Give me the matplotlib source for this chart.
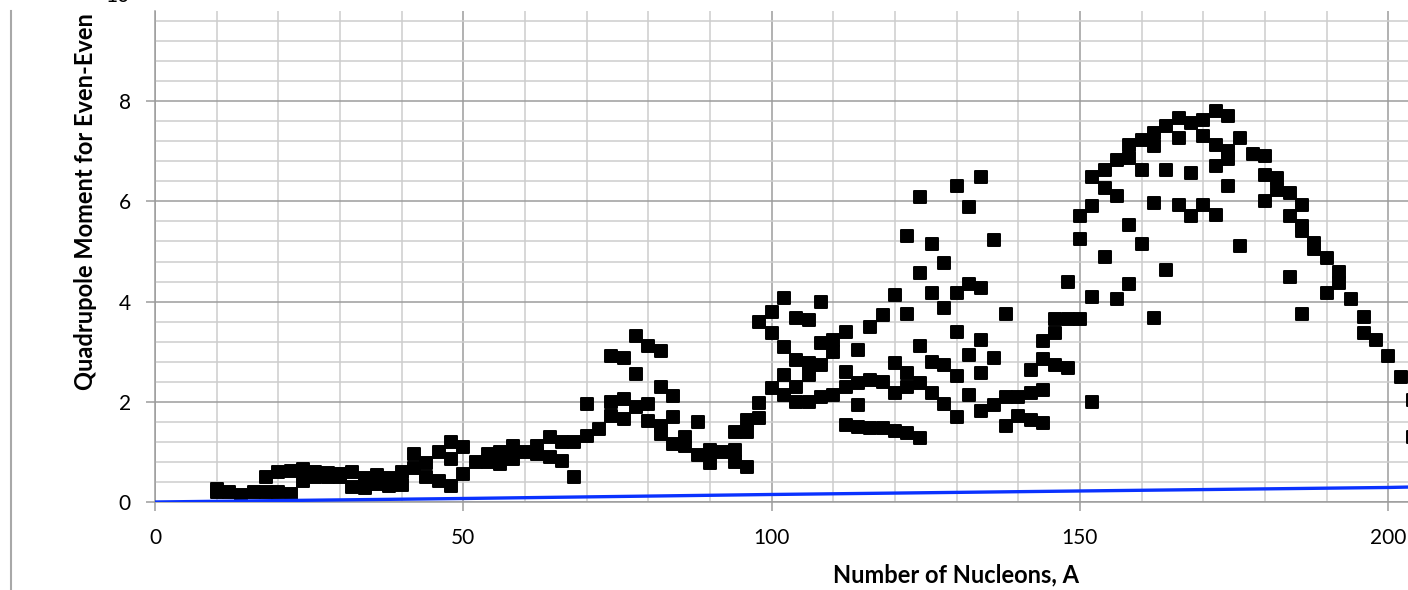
import matplotlib
matplotlib.use("Agg")
import matplotlib.pyplot as plt
from matplotlib.lines import Line2D
from matplotlib.markers import MarkerStyle
from matplotlib.ticker import MultipleLocator

plt.rcParams['font.family'] = ['Lato', 'DejaVu Sans']

# even-even nuclei: mass number A and quadrupole moment
A_values = [10, 10, 12, 14, 16, 18, 18, 20, 20, 22, 22, 24, 24, 26, 26, 28, 28, 30, 30,
            32, 32, 34, 34, 36, 36, 38, 38, 40, 40, 42, 42, 44, 44, 46, 46, 48, 48, 48,
            50, 50, 52, 54, 54, 56, 56, 58, 58, 60, 62, 62, 64, 64, 66, 66, 68, 68,
            70, 70, 72, 74, 74, 74, 76, 76, 76, 78, 78, 78, 80, 80, 80, 82, 82, 82, 82,
            84, 84, 84, 86, 86, 88, 88, 90, 90, 92, 94, 94, 94, 96, 96, 96, 98, 98, 98,
            100, 100, 100, 102, 102, 102, 102, 104, 104, 104, 104, 106, 106, 106, 106,
            108, 108, 108, 108, 110, 110, 110, 112, 112, 112, 112, 114, 114, 114, 114,
            116, 116, 116, 118, 118, 118, 120, 120, 120, 120, 122, 122, 122, 122, 122,
            124, 124, 124, 124, 124, 126, 126, 126, 126, 128, 128, 128, 128,
            130, 130, 130, 130, 130, 132, 132, 132, 132, 134, 134, 134, 134, 134,
            136, 136, 136, 138, 138, 138, 140, 140, 142, 142, 142, 144, 144, 144, 144,
            146, 146, 146, 148, 148, 148, 150, 150, 150, 152, 152, 152, 152,
            154, 154, 154, 156, 156, 156, 158, 158, 158, 158, 160, 160, 160,
            162, 162, 162, 162, 164, 164, 164, 166, 166, 166, 168, 168, 168,
            170, 170, 170, 172, 172, 172, 172, 174, 174, 174, 174, 176, 176, 178,
            180, 180, 180, 182, 182, 184, 184, 184, 186, 186, 186, 186, 188, 188,
            190, 190, 192, 192, 194, 196, 196, 198, 200, 202, 204, 204]
Q_values = [0.26, 0.20, 0.20, 0.14, 0.20, 0.50, 0.20, 0.60, 0.20, 0.62, 0.15, 0.66, 0.42,
            0.60, 0.50, 0.58, 0.50, 0.56, 0.50, 0.60, 0.30, 0.47, 0.27, 0.54, 0.35,
            0.47, 0.32, 0.60, 0.33, 0.95, 0.68, 0.78, 0.50, 0.99, 0.42, 1.19, 0.85, 0.32,
            1.09, 0.55, 0.80, 0.95, 0.80, 0.99, 0.75, 1.12, 0.85, 0.99, 1.12, 0.95,
            1.29, 0.89, 1.19, 0.82, 1.19, 0.49,
            1.95, 1.32, 1.45, 2.92, 1.99, 1.72, 2.87, 2.05, 1.65, 3.32, 2.55, 1.89,
            3.12, 1.95, 1.62, 3.02, 2.29, 1.52, 1.35,
            2.11, 1.69, 1.15, 1.29, 1.12, 1.60, 0.93, 1.03, 0.77, 1.00, 1.40, 1.03, 0.80,
            1.63, 1.40, 0.70, 3.60, 1.97, 1.67,
            3.80, 3.37, 2.27, 4.07, 3.10, 2.53, 2.13, 3.67, 2.83, 2.30, 2.00,
            3.63, 2.77, 2.53, 2.00, 4.00, 3.17, 2.73, 2.10, 3.23, 3.00, 2.13,
            3.40, 2.60, 2.30, 1.53, 3.03, 2.37, 1.93, 1.50, 3.50, 2.43, 1.47,
            3.73, 2.40, 1.47, 4.13, 2.77, 2.17, 1.42, 5.30, 3.75, 2.58, 2.29, 1.38,
            6.09, 4.57, 3.11, 2.38, 1.27, 5.15, 4.18, 2.80, 2.18, 4.78, 3.87, 2.73, 1.95,
            6.31, 4.18, 3.40, 2.51, 1.70, 5.89, 4.35, 2.93, 2.13, 6.49, 4.27, 3.23, 2.58, 1.82,
            5.23, 2.87, 1.93, 3.75, 2.10, 1.51, 2.09, 1.71, 2.63, 2.18, 1.63,
            3.22, 2.85, 2.23, 1.58, 3.65, 3.38, 2.73, 4.40, 3.65, 2.67,
            5.70, 5.25, 3.65, 6.49, 5.90, 4.09, 2.00,
            6.63, 6.27, 4.90, 6.83, 6.11, 4.05, 7.13, 6.87, 5.53, 4.35, 7.23, 6.63, 5.15,
            7.37, 7.10, 5.97, 3.67, 7.50, 6.63, 4.63, 7.67, 7.27, 5.93, 7.57, 6.57, 5.70,
            7.63, 7.30, 5.93, 7.80, 7.13, 6.70, 5.73, 7.70, 7.00, 6.85, 6.30, 7.27, 5.10, 6.95,
            6.90, 6.53, 6.00, 6.47, 6.23, 6.17, 5.70, 4.49, 5.93, 5.50, 5.40, 3.75, 5.17, 5.05,
            4.87, 4.18, 4.60, 4.37, 4.05, 3.70, 3.37, 3.23, 2.92, 2.49, 2.04, 1.30]

# blue reference line
line_A = [0, 50, 100, 150, 200, 204]
line_Q = [0.0, 0.07, 0.15, 0.22, 0.29, 0.30]

W, H = 1408, 590
fig = plt.figure(figsize=(W / 100, H / 100), dpi=100)
ax = fig.add_axes([155 / W, (H - 502) / H, (W - 155) / W, (502 - 11) / H])

ax.set_xlim(0, 203.2)
ax.set_ylim(0, 9.8)
ax.xaxis.set_major_locator(MultipleLocator(50))
ax.xaxis.set_minor_locator(MultipleLocator(10))
ax.yaxis.set_major_locator(MultipleLocator(2))
ax.yaxis.set_minor_locator(MultipleLocator(0.4))
ax.grid(which='major', color='#9c9c9c', lw=1.1)
ax.grid(which='minor', color='#cdcdcd', lw=1.1)
ax.set_axisbelow(True)

for s in ['top', 'right']:
    ax.spines[s].set_visible(False)
for s in ['left', 'bottom']:
    ax.spines[s].set_color('#9c9c9c')
    ax.spines[s].set_linewidth(1.1)

ax.tick_params(which='minor', length=0)
ax.tick_params(which='major', length=6.5, width=1.1, color='#9c9c9c', labelsize=15)
ax.tick_params(axis='y', pad=11)
ax.tick_params(axis='x', pad=12)

sq = MarkerStyle('s', joinstyle='round')
ax.plot(A_values, Q_values, linestyle='none', marker=sq, ms=8.2, mew=1.4,
        mfc='black', mec='black', zorder=3)
ax.plot(line_A, line_Q, color='#0a32ff', lw=2.4, zorder=4)

fig.text(956 / W, (H - 582.7) / H, 'Number of Nucleons, A', ha='center', va='baseline',
         fontsize=17, fontweight='bold')
fig.text(86 / W, (H - 390) / H, 'Quadrupole Moment for Even-Even', rotation=90,
         ha='center', va='bottom', fontsize=17, fontweight='bold')
# top tick label, cut by the picture edge as in the original
fig.text(130 / W, (H + 4) / H, '10', ha='right', va='center', fontsize=15)

fig.add_artist(Line2D([11 / W, 11 / W], [0, (H - 11) / H], color='#a8a8a8', lw=1.5,
                      transform=fig.transFigure))

fig.savefig('out.png', dpi=100)
